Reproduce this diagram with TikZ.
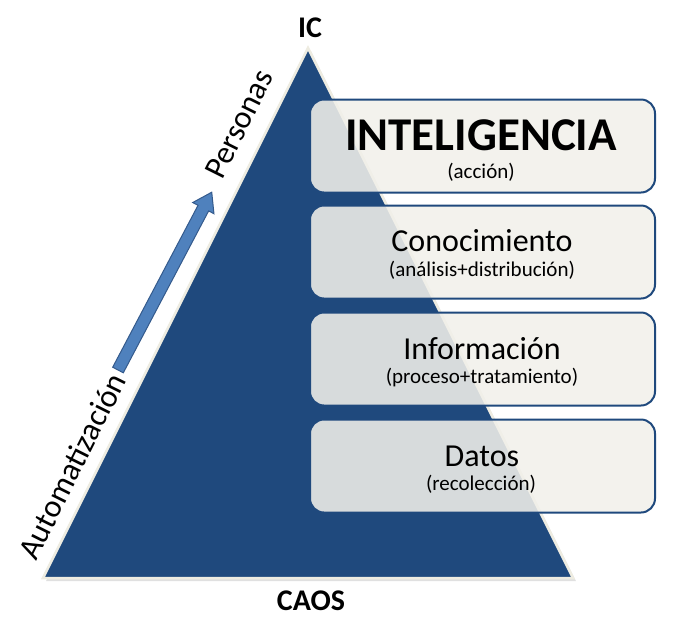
\documentclass[tikz,border=0pt]{standalone}
\usepackage{fontspec}
\setmainfont{Carlito}
\definecolor{navy}{RGB}{31,73,125}
\definecolor{cream}{RGB}{238,236,225}
\definecolor{boxfill}{RGB}{241,240,234}
\definecolor{boxedge}{RGB}{31,73,125}
\definecolor{arrowblue}{RGB}{79,129,189}
\definecolor{arrowedge}{RGB}{52,90,140}
\tikzset{
  tbox/.style={draw=boxedge, line width=2pt, fill=boxfill, fill opacity=0.88, draw opacity=1,
    rounded corners=14pt, minimum width=345pt, minimum height=93pt, inner sep=0pt},
  ttl/.style={font=\fontsize{32}{36}\selectfont, inner sep=0pt, text=black},
  sub/.style={font=\fontsize{21}{24}\selectfont, inner sep=0pt, text=black},
  big/.style={font=\fontsize{47}{52}\selectfont\bfseries, inner sep=0pt, text=black},
  edgelbl/.style={font=\fontsize{32}{36}\selectfont, inner sep=0pt, rotate=63.4, text=black},
  endlbl/.style={font=\fontsize{30}{34}\selectfont\bfseries, inner sep=0pt, text=black}
}
\begin{document}
\begin{tikzpicture}[x=1pt,y=-1pt]
\useasboundingbox (0,0) rectangle (681,630);
% triangle
\coordinate (bl) at (43,578);
\coordinate (apex) at (308,48);
\coordinate (br) at (573,578);
\fill[black!12] ([xshift=3pt,yshift=-3pt]bl) -- ([xshift=3pt,yshift=-3pt]apex) -- ([xshift=3pt,yshift=-3pt]br) -- cycle;
\filldraw[fill=navy, draw=cream, line width=2.5pt, line join=miter] (bl) -- (apex) -- (br) -- cycle;
% arrow
\coordinate (atail) at (118,370);
\begin{scope}[shift={(atail)}, rotate=62.2]
  \filldraw[fill=arrowblue, draw=arrowedge, line width=1pt, line join=miter]
    (0,-6) -- (183,-6) -- (183,-12) -- (201,0) -- (183,12) -- (183,6) -- (0,6) -- cycle;
\end{scope}
% labels along edge
\node[edgelbl] (auto) at (72,466) {Automatización};
\node[edgelbl] (pers) at (239,124) {Personas};
\node[endlbl] (ic) at (310,28) {IC};
\node[endlbl] (caos) at (311,601) {CAOS};
% boxes
\node[tbox] (b1) at (482.5,146) {};
\node[tbox] (b2) at (482.5,252) {};
\node[tbox] (b3) at (482.5,359) {};
\node[tbox] (b4) at (482.5,466) {};
\node[big] (t1) at (481,135) {INTELIGENCIA};
\node[sub] (s1) at (481,172) {(acción)};
\node[ttl] (t2) at (482,241) {Conocimiento};
\node[sub] (s2) at (482,270) {(análisis+distribución)};
\node[ttl] (t3) at (482,349) {Información};
\node[sub] (s3) at (482,378) {(proceso+tratamiento)};
\node[ttl] (t4) at (482,456) {Datos};
\node[sub] (s4) at (481,484) {(recolección)};
\end{tikzpicture}
\end{document}
